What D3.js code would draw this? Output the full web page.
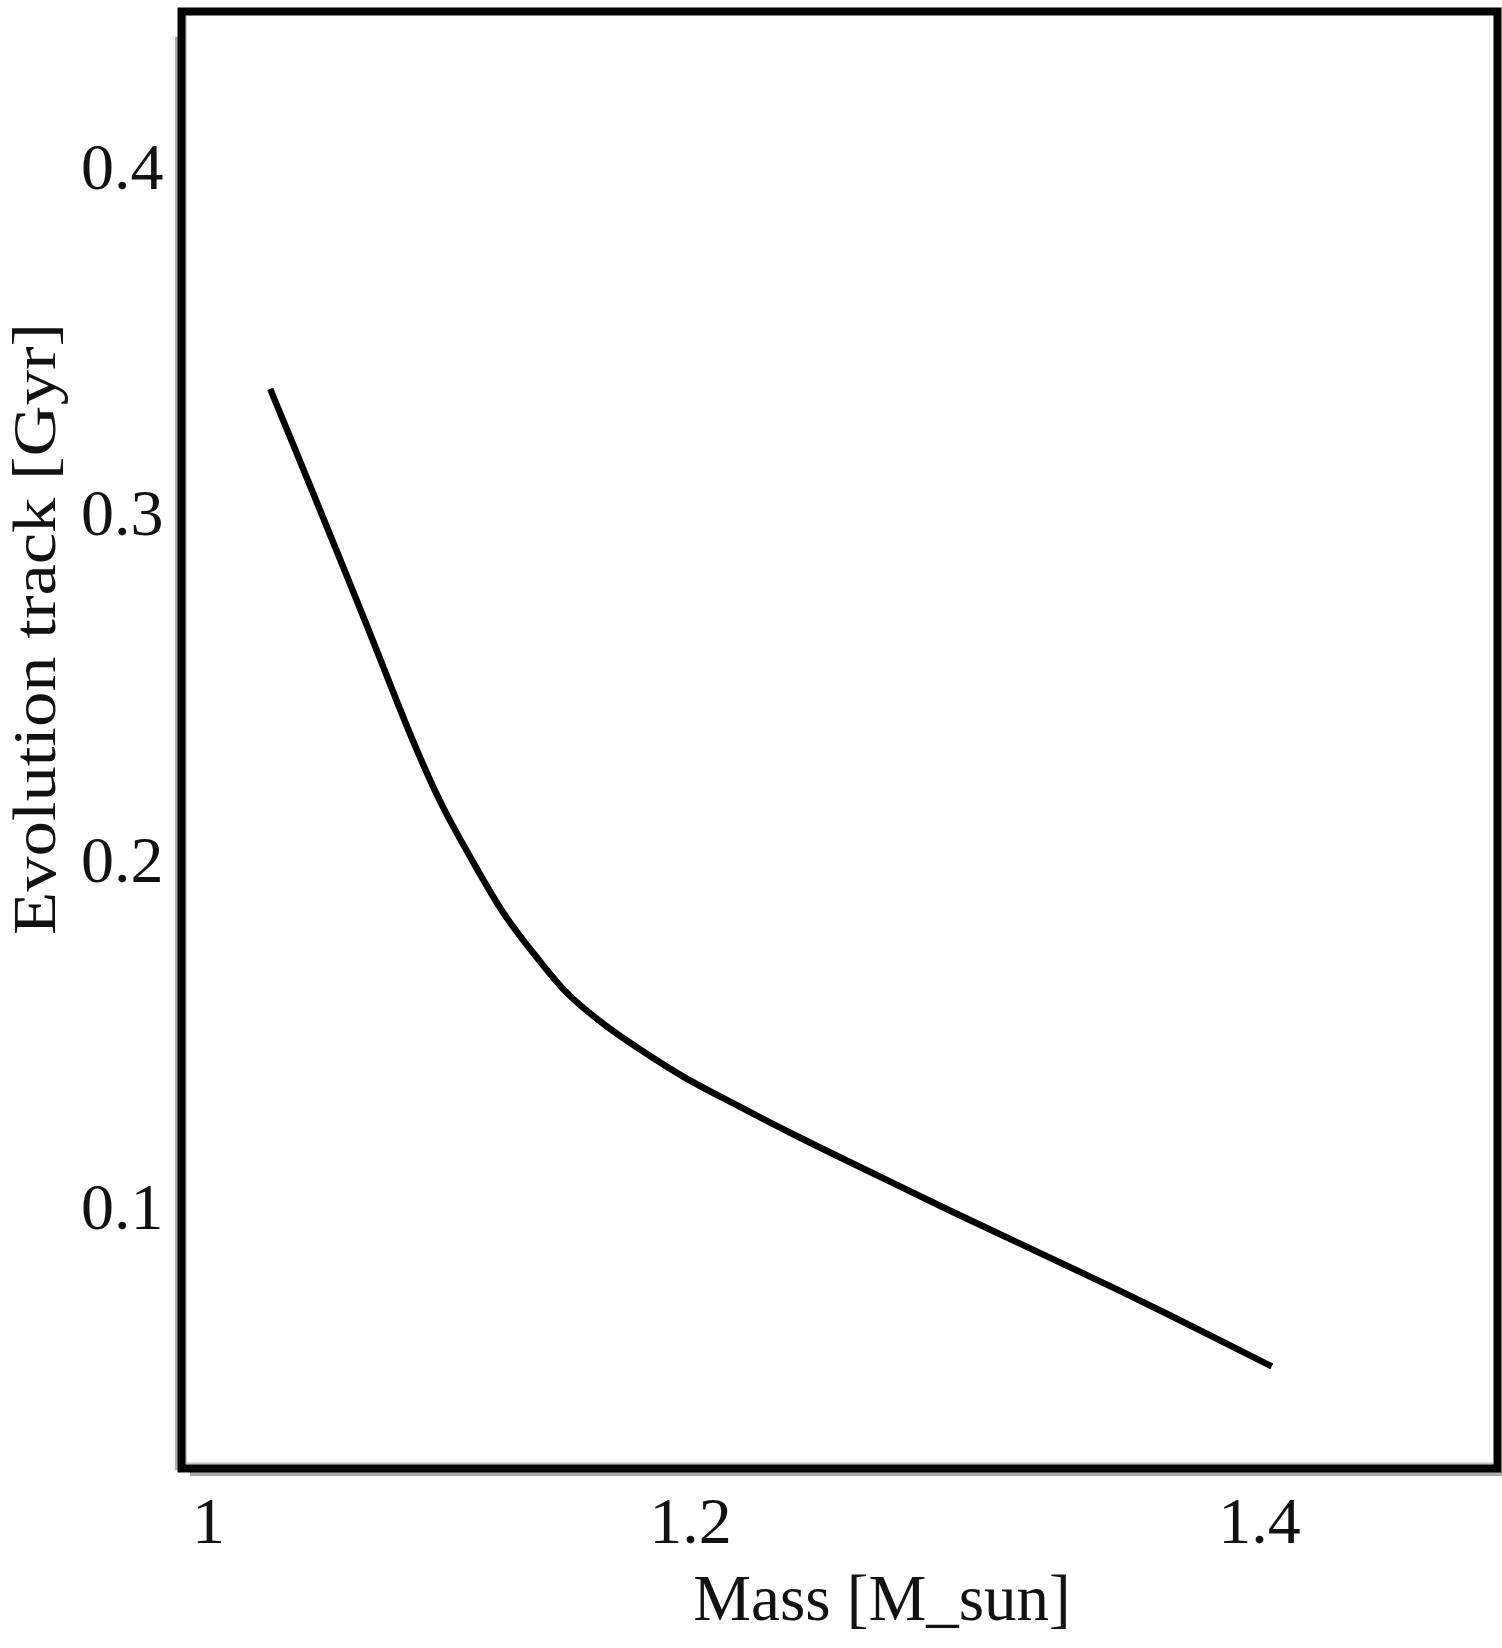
<!DOCTYPE html>
<html>
<head>
<meta charset="utf-8">
<script src="https://cdn.jsdelivr.net/npm/d3@7"></script>
<style>
  html, body { margin: 0; padding: 0; background: #fff; }
  svg { display: block; }
  text { font-family: "Liberation Serif", "DejaVu Serif", serif; fill: #111; }
</style>
</head>
<body>
<svg id="chart" width="1502" height="1648"></svg>
<script>
// ---- data ----
const massValues = [1.0258, 1.0424, 1.0650, 1.0860, 1.0969, 1.1100, 1.1230, 1.1361, 1.1492, 1.1645,
                    1.1798, 1.1972, 1.2161, 1.2382, 1.2641, 1.2900, 1.3158, 1.3417, 1.3676, 1.4045];
const trackValues = [0.3360, 0.3080, 0.2693, 0.2329, 0.2162, 0.1995, 0.1844, 0.1723, 0.1616, 0.1526,
                     0.1452, 0.1376, 0.1295, 0.1202, 0.1098, 0.0995, 0.0895, 0.0795, 0.0692, 0.0540];
const xTickValues = [1, 1.2, 1.4];
const xTickLabels = ["1", "1.2", "1.4"];
const yTickValues = [0.1, 0.2, 0.3, 0.4];
const yTickLabels = ["0.1", "0.2", "0.3", "0.4"];
const xAxisTitle = "Mass [M_sun]";
const yAxisTitle = "Evolution track [Gyr]";

// ---- layout ----
const frame = { left: 181.5, top: 11.5, right: 1497.5, bottom: 1468.5 };
const svg = d3.select("#chart");

// x axis labels in the reference sit at uneven spacing, so a piecewise linear scale is used
const x = d3.scaleLinear().domain([1, 1.2, 1.4]).range([208, 690, 1259]);
const y = d3.scaleLinear().domain([0.1, 0.4]).range([1207, 167]);

// shadow lines (scan artefacts of the original frame)
svg.append("line").attr("x1", 176.5).attr("x2", 176.5).attr("y1", 37).attr("y2", 1470)
  .attr("stroke", "#b0b0b0").attr("stroke-width", 3);
svg.append("line").attr("x1", 186).attr("x2", 186).attr("y1", 16).attr("y2", 1465)
  .attr("stroke", "#c8c8c8").attr("stroke-width", 2);
svg.append("line").attr("x1", 190).attr("x2", 1502).attr("y1", 1474).attr("y2", 1474)
  .attr("stroke", "#a8a8a8").attr("stroke-width", 4);
svg.append("line").attr("x1", 185).attr("x2", 1493).attr("y1", 1463.5).attr("y2", 1463.5)
  .attr("stroke", "#c0c0c0").attr("stroke-width", 2);

// frame
svg.append("rect")
  .attr("x", frame.left).attr("y", frame.top)
  .attr("width", frame.right - frame.left).attr("height", frame.bottom - frame.top)
  .attr("fill", "none").attr("stroke", "#000").attr("stroke-width", 8);

// curve
const pts = massValues.map((m, i) => [m, trackValues[i]]);
const line = d3.line().x(d => x(d[0])).y(d => y(d[1])).curve(d3.curveCatmullRom.alpha(0.5));
svg.append("path").datum(pts)
  .attr("d", line)
  .attr("fill", "none").attr("stroke", "#000").attr("stroke-width", 6.5)
  .attr("stroke-linejoin", "round");

// x axis ticks
const xAxis = d3.axisBottom(x).tickValues(xTickValues)
  .tickFormat((d, i) => xTickLabels[i]).tickSize(0).tickPadding(28);
const gx = svg.append("g").attr("transform", `translate(0,${frame.bottom - 0.5})`).call(xAxis);
gx.select(".domain").remove();
gx.selectAll("text").attr("font-size", 66).attr("fill", "#111")
  .style("font-family", '"Liberation Serif", serif');

// y axis ticks
const yAxis = d3.axisLeft(y).tickValues(yTickValues)
  .tickFormat((d, i) => yTickLabels[i]).tickSize(0).tickPadding(18);
const gy = svg.append("g").attr("transform", `translate(${frame.left},0)`).call(yAxis);
gy.select(".domain").remove();
gy.selectAll("text").attr("font-size", 66).attr("fill", "#111")
  .style("font-family", '"Liberation Serif", serif');

// axis titles
svg.append("text")
  .attr("x", 882).attr("y", 1620)
  .attr("text-anchor", "middle")
  .attr("font-size", 65)
  .text(xAxisTitle);

svg.append("text")
  .attr("transform", "translate(55,629) rotate(-90)")
  .attr("text-anchor", "middle")
  .attr("font-size", 61)
  .attr("textLength", 612)
  .attr("lengthAdjust", "spacingAndGlyphs")
  .text(yAxisTitle);
</script>
</body>
</html>
